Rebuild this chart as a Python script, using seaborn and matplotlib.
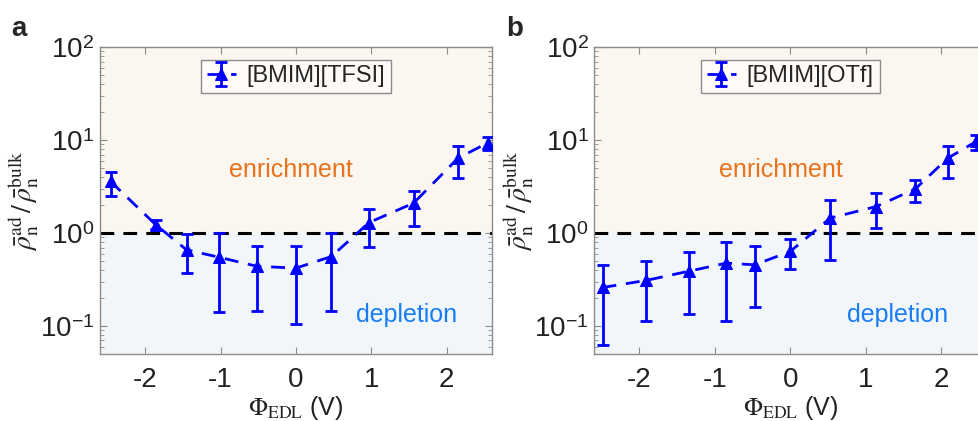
import numpy as np
import pandas as pd
import matplotlib
matplotlib.use("Agg")
import matplotlib.pyplot as plt
import seaborn as sns

# values (potential in V, density ratio, error bar ends)
phi_a = [-2.46, -1.86, -1.45, -1.02, -0.52, 0.0, 0.47, 0.97, 1.56, 2.15, 2.55]
ratio_a = [3.6, 1.23, 0.66, 0.55, 0.44, 0.42, 0.56, 1.30, 2.10, 6.4, 9.4]
upper_a = [4.5, 1.37, 0.98, 1.0, 0.73, 0.73, 1.0, 1.81, 2.87, 8.75, 10.7]
lower_a = [2.5, 1.10, 0.37, 0.141, 0.144, 0.105, 0.144, 0.71, 1.18, 3.9, 7.9]

phi_b = [-2.49, -1.91, -1.34, -0.85, -0.47, 0.0, 0.53, 1.14, 1.66, 2.09, 2.47]
ratio_b = [0.26, 0.31, 0.39, 0.475, 0.456, 0.635, 1.45, 1.93, 2.99, 6.4, 9.7]
upper_b = [0.45, 0.50, 0.625, 0.80, 0.73, 0.86, 2.28, 2.73, 3.74, 8.75, 11.4]
lower_b = [0.062, 0.112, 0.135, 0.112, 0.16, 0.41, 0.51, 1.13, 2.15, 3.9, 7.9]

labels = ["[BMIM][TFSI]", "[BMIM][OTf]"]
enrich_x = [-0.07, -0.13]
deplete_x = [1.47, 1.43]
xticks = [-2, -1, 0, 1, 2]
yticks = [0.1, 1, 10, 100]
ytick_labels = [r'10$^{\mathregular{-1}}$', r'10$^{\mathregular{0}}$',
                r'10$^{\mathregular{1}}$', r'10$^{\mathregular{2}}$']

sns.set_style("ticks")
plt.rcParams['font.family'] = ['Liberation Sans', 'DejaVu Sans']
plt.rcParams['mathtext.fontset'] = 'stix'
plt.rcParams['axes.unicode_minus'] = False

fig = plt.figure(figsize=(9.79, 4.21), dpi=100)
ax_a = fig.add_axes([0.1021, 0.159, 0.4004, 0.729])
ax_b = fig.add_axes([0.607, 0.159, 0.4004, 0.729])

blue = (0, 0, 1)
edge = '#8c8c8c'
txt = '#222222'

panels = [
    (ax_a, phi_a, ratio_a, upper_a, lower_a),
    (ax_b, phi_b, ratio_b, upper_b, lower_b),
]

for i, (ax, x, y, up, lo) in enumerate(panels):
    df = pd.DataFrame({"phi": x, "ratio": y})
    ax.set_yscale("log")
    ax.set_xlim(-2.6, 2.6)
    ax.set_ylim(0.05, 100)

    # shaded regions
    ax.axhspan(1, 100, color='#fcf6f0', zorder=0)
    ax.axhspan(0.05, 1, color='#f1f6fa', zorder=0)
    ax.axhline(1, color='black', ls=(0, (4.5, 3)), lw=2.2, zorder=2)

    yerr = [np.array(y) - np.array(lo), np.array(up) - np.array(y)]
    eb = ax.errorbar(x, y, yerr=yerr, fmt='none', ecolor=blue, elinewidth=2,
                     capsize=4, capthick=2, zorder=3)
    sns.lineplot(data=df, x="phi", y="ratio", ax=ax, color=blue, lw=2,
                 marker='^', markersize=8, markeredgecolor=blue,
                 dashes=(5, 3.5), zorder=4, legend=False)
    line = ax.lines[-1]

    leg = ax.legend([(eb, line)], [labels[i]], loc='upper center',
                    bbox_to_anchor=(0.5, 0.975), fontsize=17, fancybox=False,
                    handlelength=1.25, handletextpad=0.45, borderpad=0.25,
                    borderaxespad=0.2, framealpha=1)
    leg.get_frame().set_edgecolor(edge)
    leg.get_frame().set_facecolor('#fdfaf7')
    leg.get_frame().set_linewidth(1.0)

    ax.text(enrich_x[i], 4.8, "enrichment", color='#e8731c', fontsize=18,
            ha='center', va='center')
    ax.text(deplete_x[i], 0.13, "depletion", color='#1a7cf5', fontsize=18,
            ha='center', va='center')

    ax.set_xticks(xticks)
    ax.set_xticklabels([str(t) for t in xticks])
    ax.set_yticks(yticks)
    ax.set_yticklabels(ytick_labels)
    ax.tick_params(axis='both', which='both', direction='in', top=True,
                   right=True, colors=edge, labelcolor=txt, labelsize=20)
    ax.tick_params(axis='x', pad=9)
    ax.tick_params(axis='y', pad=4)
    ax.tick_params(which='major', length=5)
    ax.tick_params(which='minor', length=3)
    ax.tick_params(axis='x', which='minor', bottom=False, top=False)
    for s in ax.spines.values():
        s.set_color(edge)
        s.set_linewidth(1.0)
        s.set_visible(True)

    ax.set_xlabel(r'$\Phi_{\mathrm{EDL}}$ (V)', fontsize=18, color=txt,
                  labelpad=1)
    ax.set_ylabel(r'$\bar{\rho}_{\mathrm{n}}^{\mathrm{ad}}\,/\,\bar{\rho}_{\mathrm{n}}^{\mathrm{bulk}}$',
                  fontsize=20, color=txt, labelpad=-1)

fig.text(0.011, 0.915, "a", fontsize=20, fontweight='bold')
fig.text(0.517, 0.915, "b", fontsize=20, fontweight='bold')

fig.savefig("out.png", dpi=100)
